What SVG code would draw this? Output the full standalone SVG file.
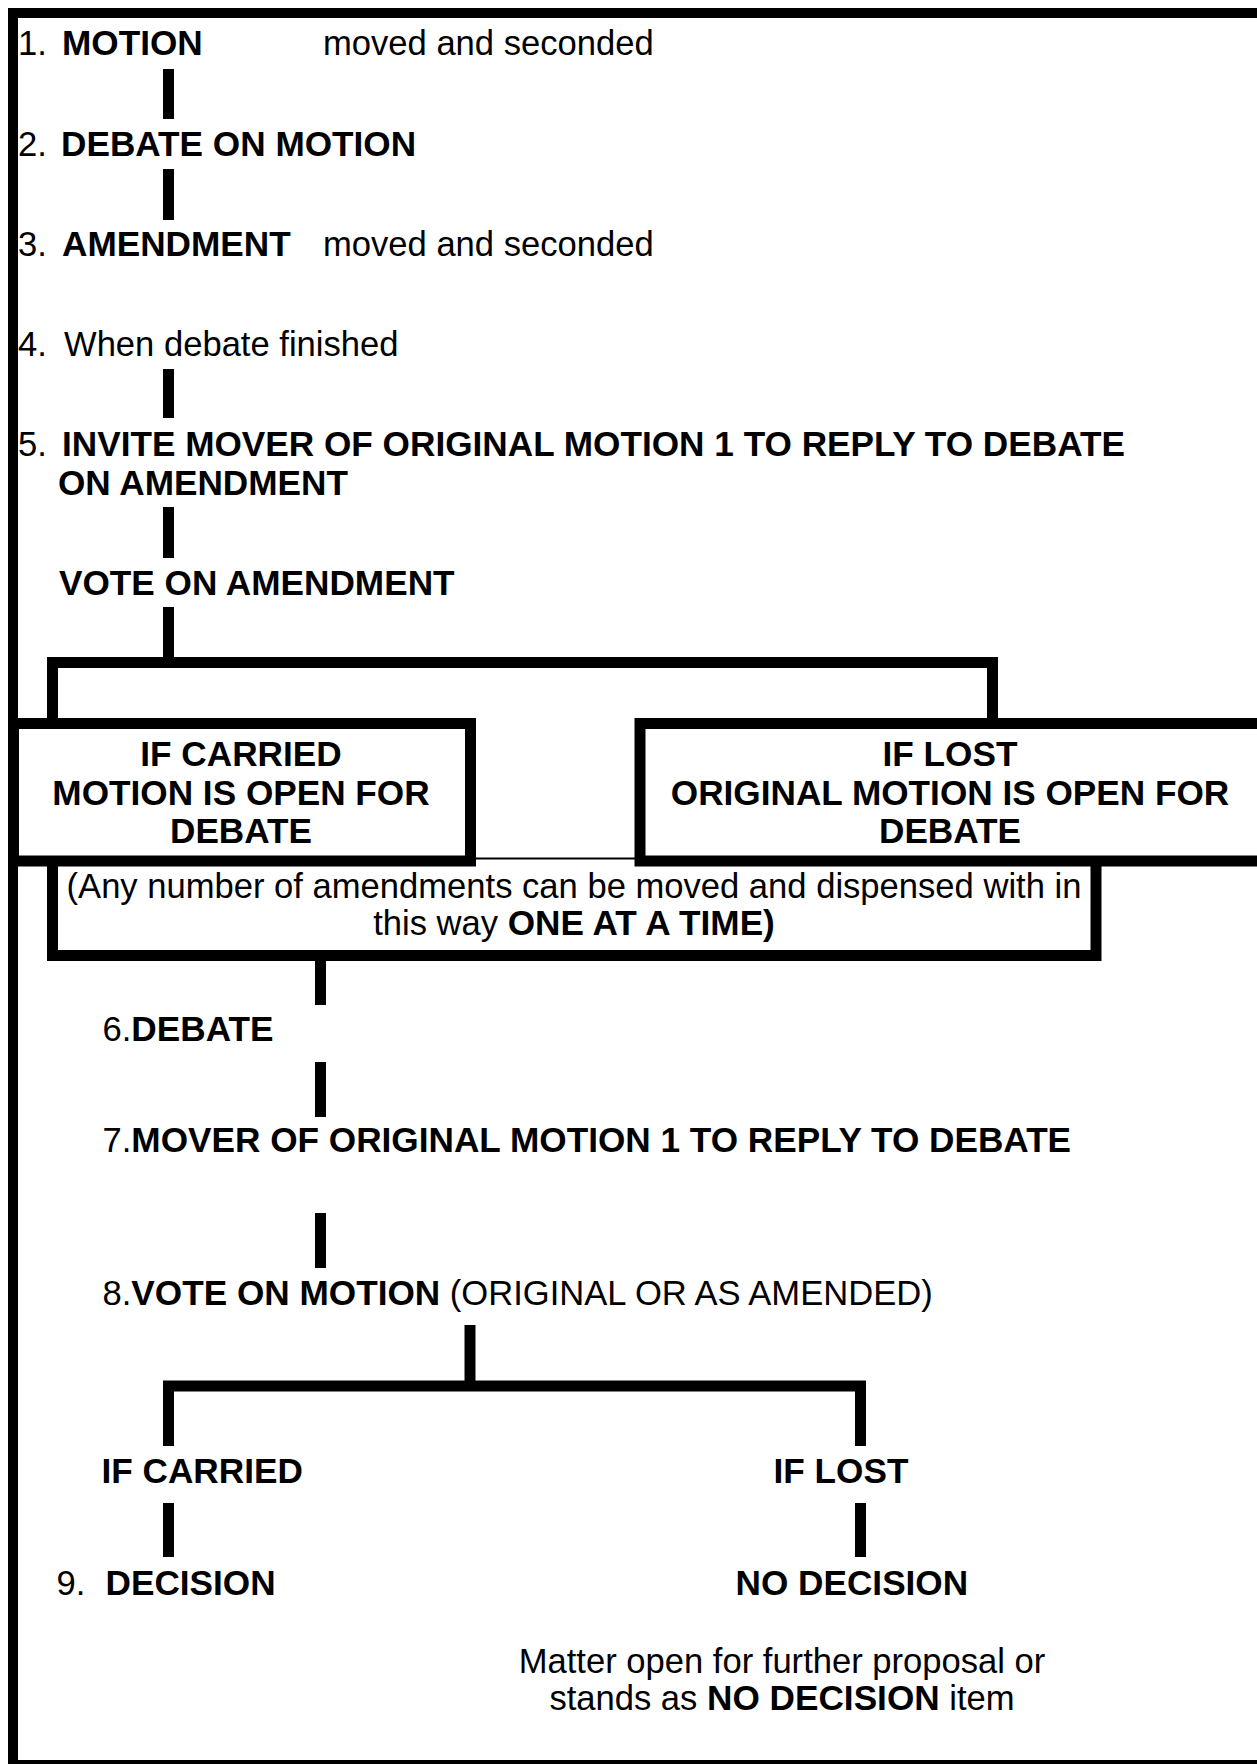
<svg xmlns="http://www.w3.org/2000/svg" width="1257" height="1764" viewBox="0 0 1257 1764">
<style>
.t{font-family:"Liberation Sans",Arial,Helvetica,sans-serif;font-size:34.6px;fill:#000}
.b{font-weight:bold;font-size:35.2px}
.m{text-anchor:middle}
.c{stroke:#000;stroke-width:11;fill:none;stroke-linecap:butt;stroke-linejoin:miter}
.box{fill:#fff;stroke:#000;stroke-width:11}
.frame{stroke:#000;fill:none}
</style>
<rect x="0" y="0" width="1257" height="1764" fill="#fff"/>
<g id="frame">
<line class="frame" x1="8" y1="13" x2="1257" y2="13" stroke-width="10"/>
<line class="frame" x1="13" y1="8" x2="13" y2="1764" stroke-width="10"/>
<line class="frame" x1="8" y1="1762" x2="1257" y2="1762" stroke-width="4"/>
</g>
<g id="connectors">
<line class="c" x1="168.5" y1="69" x2="168.5" y2="119"/>
<line class="c" x1="168.5" y1="169" x2="168.5" y2="220"/>
<line class="c" x1="168.5" y1="369" x2="168.5" y2="418"/>
<line class="c" x1="168.5" y1="507" x2="168.5" y2="558"/>
<line class="c" x1="168.5" y1="607" x2="168.5" y2="662"/>
<path class="c" d="M52.5,720 V662.5 H992.5 V720"/>
<line class="c" x1="320.5" y1="958" x2="320.5" y2="1005"/>
<line class="c" x1="320.5" y1="1062" x2="320.5" y2="1117"/>
<line class="c" x1="320.5" y1="1213" x2="320.5" y2="1268"/>
<line class="c" x1="470" y1="1325" x2="470" y2="1386"/>
<path class="c" d="M168.5,1446 V1386 H860.5 V1446"/>
<line class="c" x1="168.5" y1="1503" x2="168.5" y2="1557"/>
<line class="c" x1="860.5" y1="1503" x2="860.5" y2="1557"/>
</g>
<g id="n1">
<text class="t" x="18" y="55">1.</text>
<text class="t b" x="62" y="55">MOTION</text>
<text class="t" x="323" y="55">moved and seconded</text>
</g>
<g id="n2">
<text class="t" x="18" y="156">2.</text>
<text class="t b" x="61" y="156">DEBATE ON MOTION</text>
</g>
<g id="n3">
<text class="t" x="18" y="256">3.</text>
<text class="t b" x="62" y="256">AMENDMENT</text>
<text class="t" x="323" y="256">moved and seconded</text>
</g>
<g id="n4">
<text class="t" x="18" y="356">4.</text>
<text class="t" x="64" y="356">When debate finished</text>
</g>
<g id="n5">
<text class="t" x="18" y="456">5.</text>
<text class="t b" x="62" y="456">INVITE MOVER OF ORIGINAL MOTION 1 TO REPLY TO DEBATE</text>
<text class="t b" x="58" y="495">ON AMENDMENT</text>
</g>
<g id="n-vote-amendment">
<text class="t b" x="59" y="595">VOTE ON AMENDMENT</text>
</g>
<g id="n-amendments-note">
<rect x="52.5" y="858.5" width="1043.5" height="97" fill="#fff"/>
<line x1="47" y1="858.5" x2="1101" y2="858.5" stroke="#000" stroke-width="2"/>
<path class="c" d="M52.5,858 V955.5 H1096 V858"/>
<text class="t m" x="574" y="898">(Any number of amendments can be moved and dispensed with in</text>
<text class="t m" x="574" y="935">this way <tspan class="b">ONE AT A TIME)</tspan></text>
</g>
<g id="n-carried-box">
<rect class="box" x="13.5" y="723.5" width="457" height="137.5"/>
<text class="t b m" x="241" y="766">IF CARRIED</text>
<text class="t b m" x="241" y="805">MOTION IS OPEN FOR</text>
<text class="t b m" x="241" y="843">DEBATE</text>
</g>
<g id="n-lost-box">
<rect class="box" x="640" y="723.5" width="700" height="137.5"/>
<text class="t b m" x="950" y="766">IF LOST</text>
<text class="t b m" x="950" y="805">ORIGINAL MOTION IS OPEN FOR</text>
<text class="t b m" x="950" y="843">DEBATE</text>
</g>
<g id="n6">
<text class="t" x="102.5" y="1041">6.<tspan class="b">DEBATE</tspan></text>
</g>
<g id="n7">
<text class="t" x="102.5" y="1152">7.<tspan class="b">MOVER OF ORIGINAL MOTION 1 TO REPLY TO DEBATE</tspan></text>
</g>
<g id="n8">
<text class="t" x="102.5" y="1305">8.<tspan class="b">VOTE ON MOTION</tspan> (ORIGINAL OR AS AMENDED)</text>
</g>
<g id="n-if-carried">
<text class="t b" x="101.5" y="1483">IF CARRIED</text>
</g>
<g id="n-if-lost">
<text class="t b" x="773.5" y="1483">IF LOST</text>
</g>
<g id="n9">
<text class="t" x="56.5" y="1595">9.</text>
<text class="t b" x="105.5" y="1595">DECISION</text>
</g>
<g id="n-no-decision">
<text class="t b" x="735.5" y="1595">NO DECISION</text>
</g>
<g id="n-matter">
<text class="t m" x="782" y="1673">Matter open for further proposal or</text>
<text class="t m" x="782" y="1710">stands as <tspan class="b">NO DECISION</tspan> item</text>
</g>
</svg>
